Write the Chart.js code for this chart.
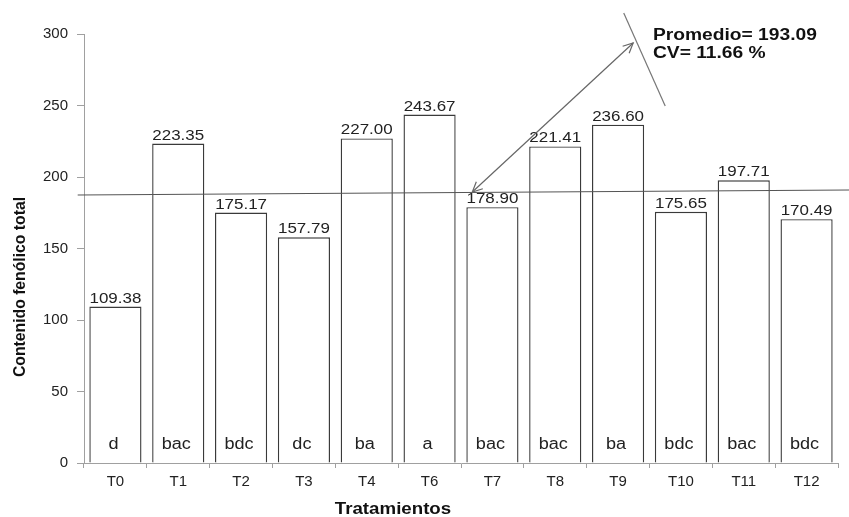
<!DOCTYPE html>
<html>
<head>
<meta charset="utf-8">
<script src="https://cdn.jsdelivr.net/npm/chart.js@4.4.1/dist/chart.umd.min.js"></script>
<style>
html,body{margin:0;padding:0;background:#fff;}
#wrap{width:849px;height:517px;position:relative;}
</style>
</head>
<body>
<div id="wrap"><canvas id="c" width="849" height="517"></canvas></div>
<script>
// ---- data ----
const categories = ["T0","T1","T2","T3","T4","T6","T7","T8","T9","T10","T11","T12"];
const values = [109.38,223.35,175.17,157.79,227.00,243.67,178.90,221.41,236.60,175.65,197.71,170.49];
const groupLetters = ["d","bac","bdc","dc","ba","a","bac","bac","ba","bdc","bac","bdc"];
const yTicks = [0,50,100,150,200,250,300];
const meanText = "Promedio= 193.09";
const cvText = "CV= 11.66 %";
const xTitle = "Tratamientos";
const yTitle = "Contenido fenólico total";
// annotation lines, in (category index, value) units
const meanLine = [[-0.6, 187.4],[11.68, 190.9]];
const arrowLine = [[5.68, 189.5],[8.24, 293.7]];
const bracketLine = [[8.09, 314.7],[8.75, 249.6]];

const FONT = "'Liberation Sans', Arial, sans-serif";
const STRETCH = 1.13;

function stretchText(ctx, text, x, y, align, font, color, sx){
  ctx.save();
  ctx.font = font;
  ctx.fillStyle = color;
  ctx.textBaseline = 'alphabetic';
  const w = ctx.measureText(text).width * sx;
  let x0 = x;
  if(align === 'center') x0 = x - w/2;
  else if(align === 'right') x0 = x - w;
  ctx.translate(x0, y);
  ctx.scale(sx, 1);
  ctx.textAlign = 'left';
  ctx.fillText(text, 0, 0);
  ctx.restore();
}

function arrowHead(ctx, x1, y1, x2, y2, len){
  const a = Math.atan2(y2-y1, x2-x1);
  const s = 0.45;
  ctx.beginPath();
  ctx.moveTo(x2 - len*Math.cos(a - s), y2 - len*Math.sin(a - s));
  ctx.lineTo(x2, y2);
  ctx.lineTo(x2 - len*Math.cos(a + s), y2 - len*Math.sin(a + s));
  ctx.stroke();
}

const annot = {
  id: 'annot',
  afterDatasetsDraw(chart){
    const ctx = chart.ctx;
    const xs = chart.scales.x, ys = chart.scales.y;
    const P = (p) => [xs.getPixelForValue(p[0]), ys.getPixelForValue(p[1])];
    const meta = chart.getDatasetMeta(0);
    // value labels and letters
    meta.data.forEach((bar, i) => {
      stretchText(ctx, values[i].toFixed(2), bar.x, bar.y - 4, 'center', "15px " + FONT, '#222', STRETCH);
      stretchText(ctx, groupLetters[i], bar.x - 2, ys.getPixelForValue(0) - 14, 'center', "16px " + FONT, '#222', STRETCH);
    });
    ctx.save();
    // mean line
    let a = P(meanLine[0]), b = P(meanLine[1]);
    ctx.strokeStyle = '#555';
    ctx.lineWidth = 1.2;
    ctx.beginPath(); ctx.moveTo(a[0], a[1]); ctx.lineTo(b[0], b[1]); ctx.stroke();
    // double arrow
    a = P(arrowLine[0]); b = P(arrowLine[1]);
    ctx.strokeStyle = '#666';
    ctx.lineWidth = 1.2;
    ctx.beginPath(); ctx.moveTo(a[0], a[1]); ctx.lineTo(b[0], b[1]); ctx.stroke();
    arrowHead(ctx, a[0], a[1], b[0], b[1], 11);
    arrowHead(ctx, b[0], b[1], a[0], a[1], 11);
    // bracket line
    a = P(bracketLine[0]); b = P(bracketLine[1]);
    ctx.strokeStyle = '#777';
    ctx.beginPath(); ctx.moveTo(a[0], a[1]); ctx.lineTo(b[0], b[1]); ctx.stroke();
    ctx.restore();
    // text box
    stretchText(ctx, meanText, 653, 40, 'left', "bold 16px " + FONT, '#111', 1.2);
    stretchText(ctx, cvText, 653, 58, 'left', "bold 16px " + FONT, '#111', 1.2);
    // axis titles
    stretchText(ctx, xTitle, 393, 514, 'center', "bold 17px " + FONT, '#111', 1.1);
    ctx.save();
    ctx.translate(25, 287);
    ctx.rotate(-Math.PI/2);
    ctx.font = "bold 16px " + FONT;
    const tw = ctx.measureText(yTitle).width;
    const sx = 180 / tw;
    stretchText(ctx, yTitle, 0, 0, 'center', "bold 16px " + FONT, '#111', sx);
    ctx.restore();
  }
};

new Chart(document.getElementById('c'), {
  type: 'bar',
  data: {
    labels: categories,
    datasets: [{
      data: values,
      backgroundColor: '#ffffff',
      borderColor: '#3a3a3a',
      borderWidth: 1.4,
      categoryPercentage: 1.0,
      barPercentage: 0.83
    }]
  },
  options: {
    responsive: false,
    animation: false,
    devicePixelRatio: 1,
    layout: { padding: { left: 0, right: 11, top: 34, bottom: 0 } },
    plugins: { legend: { display: false }, tooltip: { enabled: false } },
    scales: {
      x: {
        offset: true,
        grid: { display: true, offset: true, drawOnChartArea: false, color: '#a0a0a0', tickLength: 5, lineWidth: 1 },
        border: { color: '#a0a0a0', width: 1 },
        ticks: { font: { size: 15, family: FONT }, color: '#222', padding: 5, maxRotation: 0 },
        afterFit(s){ s.height = 54; }
      },
      y: {
        min: 0, max: 300,
        afterBuildTicks(s){ s.ticks = yTicks.map(v => ({ value: v })); },
        grid: { display: true, drawOnChartArea: false, color: '#a0a0a0', tickLength: 7 },
        border: { color: '#a0a0a0', width: 1 },
        ticks: { font: { size: 15, family: FONT }, color: '#222', padding: 9 },
        afterFit(s){ s.width = 84; }
      }
    }
  },
  plugins: [annot]
});
</script>
</body>
</html>
